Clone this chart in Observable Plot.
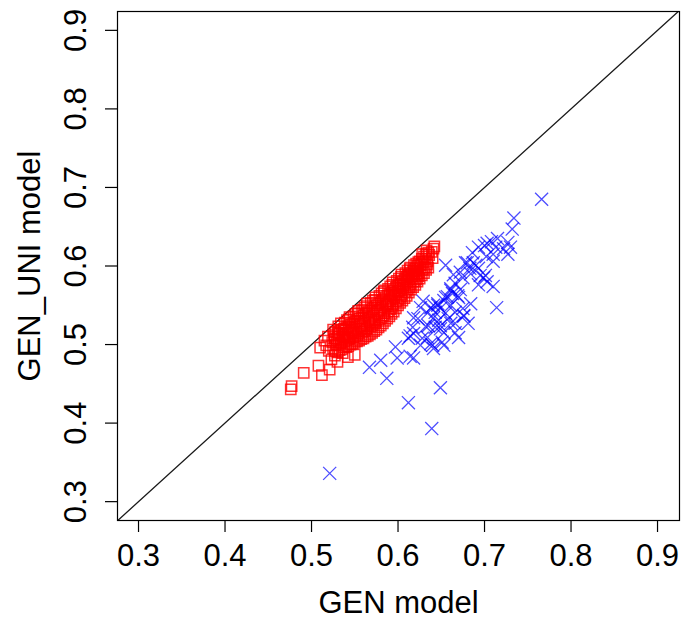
<!DOCTYPE html>
<html>
<head>
<meta charset="utf-8">
<script src="https://cdn.jsdelivr.net/npm/d3@7"></script>
<script src="https://cdn.jsdelivr.net/npm/@observablehq/plot@0.6"></script>
<style>
  html, body { margin: 0; padding: 0; background: #fff; }
  #chart svg { display: block; }
</style>
</head>
<body>
<div id="chart"></div>
<script>
// Axis labels and ticks
const xLabel = "GEN model";
const yLabel = "GEN_UNI model";
const tickValues = [0.3, 0.4, 0.5, 0.6, 0.7, 0.8, 0.9];
const xLimits = [0.2757, 0.9254];
const yLimits = [0.276, 0.924];
const diagonal = [0.276, 0.924];

// Red squares (GEN model vs GEN_UNI model)
const redGen = [
  0.476,0.477,0.491,0.508,0.512,0.521,0.530,0.523,0.527,0.542,0.550,0.520,0.517,0.515,0.519,0.510,0.536,
  0.525,0.524,0.526,0.525,
  0.530,0.531,0.529,0.530,0.531,
  0.535,0.534,0.536,0.535,0.534,
  0.540,0.541,0.539,0.540,0.541,
  0.545,0.544,0.546,0.545,0.544,
  0.550,0.551,0.549,0.550,0.551,
  0.555,0.554,0.556,0.555,0.554,
  0.560,0.561,0.559,0.560,0.561,
  0.565,0.564,0.566,0.565,0.564,
  0.570,0.571,0.569,0.570,0.571,
  0.575,0.574,0.576,0.575,0.574,
  0.580,0.581,0.579,0.580,0.581,
  0.585,0.584,0.586,0.585,0.584,
  0.590,0.591,0.589,0.590,0.591,
  0.595,0.594,0.596,0.595,0.594,
  0.600,0.601,0.599,0.600,0.601,
  0.605,0.604,0.606,0.605,0.604,
  0.610,0.611,0.609,0.610,0.611,
  0.615,0.614,0.616,0.615,0.614,
  0.620,0.621,0.619,0.620,0.621,
  0.625,0.624,0.626,0.625,
  0.630,0.631,0.629,0.630,
  0.635,0.634,0.636,0.635,
  0.640,0.639,0.641,
  0.642,0.633,0.628,0.612,0.588,0.567,0.548,0.557,0.573,0.594,0.603,0.618,0.622,0.538,0.532,
  0.5275,0.5285,0.5265,0.5275,
  0.5325,0.5335,0.5315,0.5325,
  0.5375,0.5385,0.5365,0.5375,0.5385,
  0.5425,0.5435,0.5415,0.5425,0.5435,
  0.5475,0.5485,0.5465,0.5475,0.5485,
  0.5525,0.5535,0.5515,0.5525,0.5535,
  0.5575,0.5585,0.5565,0.5575,0.5585,
  0.5625,0.5635,0.5615,0.5625,0.5635,
  0.5675,0.5685,0.5665,0.5675,0.5685,
  0.5725,0.5735,0.5715,0.5725,0.5735,
  0.5775,0.5785,0.5765,0.5775,0.5785,
  0.5825,0.5835,0.5815,0.5825,0.5835,
  0.5875,0.5885,0.5865,0.5875,0.5885,
  0.5925,0.5935,0.5915,0.5925,0.5935,
  0.5975,0.5985,0.5965,0.5975,0.5985,
  0.6025,0.6035,0.6015,0.6025,0.6035,
  0.6075,0.6085,0.6065,0.6075,0.6085,
  0.6125,0.6135,0.6115,0.6125,0.6135,
  0.6175,0.6185,0.6165,0.6175,0.6185,
  0.6225,0.6235,0.6215,0.6225,0.6235,
  0.6275,0.6285,0.6265,0.6275,
  0.6325,0.6335,0.6315,0.6325
];
const redUni = [
  0.443,0.447,0.464,0.473,0.461,0.468,0.478,0.481,0.486,0.484,0.487,0.492,0.499,0.505,0.510,0.496,0.489,
  0.495,0.503,0.512,0.519,
  0.490,0.499,0.507,0.515,0.523,
  0.494,0.502,0.510,0.519,0.527,
  0.497,0.505,0.513,0.521,0.531,
  0.500,0.508,0.516,0.525,0.535,
  0.502,0.510,0.519,0.529,0.539,
  0.505,0.514,0.523,0.533,0.543,
  0.508,0.517,0.527,0.537,0.547,
  0.511,0.521,0.531,0.541,0.552,
  0.515,0.525,0.535,0.545,0.556,
  0.519,0.529,0.539,0.550,0.560,
  0.524,0.534,0.544,0.554,0.565,
  0.530,0.540,0.549,0.559,0.569,
  0.536,0.545,0.555,0.564,0.574,
  0.542,0.551,0.560,0.569,0.579,
  0.550,0.558,0.567,0.575,0.584,
  0.556,0.564,0.572,0.580,0.589,
  0.562,0.570,0.578,0.586,0.594,
  0.570,0.577,0.584,0.591,0.598,
  0.576,0.583,0.590,0.597,0.603,
  0.584,0.591,0.598,0.606,
  0.591,0.598,0.605,0.612,
  0.598,0.606,0.614,0.617,
  0.610,0.618,0.622,
  0.625,0.620,0.615,0.588,0.551,0.528,0.515,0.520,0.531,0.563,0.577,0.593,0.590,0.509,0.514,
  0.492,0.500,0.508,0.516,
  0.493,0.501,0.510,0.518,
  0.496,0.504,0.512,0.520,0.528,
  0.498,0.507,0.515,0.523,0.532,
  0.501,0.509,0.518,0.527,0.536,
  0.504,0.512,0.521,0.530,0.540,
  0.507,0.516,0.525,0.534,0.544,
  0.510,0.519,0.529,0.539,0.549,
  0.513,0.523,0.533,0.543,0.553,
  0.517,0.527,0.537,0.547,0.557,
  0.522,0.532,0.542,0.552,0.562,
  0.527,0.537,0.547,0.557,0.567,
  0.533,0.542,0.552,0.562,0.571,
  0.539,0.548,0.557,0.566,0.576,
  0.546,0.555,0.564,0.572,0.581,
  0.553,0.561,0.569,0.578,0.586,
  0.559,0.567,0.575,0.583,0.591,
  0.566,0.573,0.581,0.589,0.596,
  0.573,0.580,0.587,0.594,0.601,
  0.580,0.587,0.594,0.600,0.605,
  0.588,0.595,0.602,0.609,
  0.595,0.602,0.609,0.615
];

// Blue crosses (GEN model vs GEN_UNI model)
const blueGen = [
  0.766,0.734,0.732,0.715,0.708,0.727,0.700,0.693,0.713,0.727,0.710,0.702,0.686,0.655,0.678,0.683,0.710,0.693,0.672,0.664,
  0.699,0.703,0.675,0.693,0.710,0.666,0.661,0.672,0.663,0.657,0.670,0.653,0.646,0.641,0.638,0.649,0.629,0.626,0.714,0.661,
  0.675,0.666,0.676,0.655,0.643,0.634,0.623,0.647,0.617,0.632,0.643,0.661,0.681,0.666,0.670,0.653,0.634,0.618,0.612,0.638,
  0.653,0.597,0.614,0.599,0.580,0.567,0.587,0.649,0.612,0.639,0.521,0.695,0.684,0.658,0.635,0.651,0.641,0.626,0.618,0.614,
  0.649,0.640,0.628,0.687,0.680,0.690,0.701,0.684,0.669,0.655,0.618,0.641,0.666,0.649,0.646,0.661,0.722,0.730,0.703,0.676
];
const blueUni = [
  0.685,0.661,0.647,0.635,0.631,0.630,0.626,0.624,0.624,0.615,0.615,0.612,0.617,0.601,0.604,0.597,0.606,0.597,0.592,0.589,
  0.585,0.580,0.585,0.576,0.574,0.578,0.571,0.570,0.565,0.561,0.560,0.556,0.552,0.550,0.547,0.546,0.555,0.547,0.547,0.550,
  0.546,0.541,0.536,0.540,0.541,0.540,0.533,0.531,0.522,0.523,0.522,0.527,0.527,0.515,0.509,0.515,0.509,0.514,0.508,0.501,
  0.499,0.497,0.485,0.483,0.480,0.471,0.457,0.445,0.426,0.393,0.336,0.588,0.552,0.533,0.524,0.503,0.495,0.499,0.483,0.511,
  0.524,0.499,0.508,0.604,0.604,0.601,0.588,0.590,0.562,0.560,0.534,0.534,0.527,0.520,0.550,0.569,0.622,0.624,0.629,0.537
];

const red = redGen.map((g, i) => ({gen: g, uni: redUni[i]}));
const blue = blueGen.map((g, i) => ({gen: g, uni: blueUni[i]}));

const font = "'Liberation Sans', Arial, Helvetica, sans-serif";
const fs = 31;

const chart = Plot.plot({
  width: 681,
  height: 620,
  marginLeft: 117,
  marginRight: 2,
  marginTop: 11,
  marginBottom: 100,
  style: {fontFamily: font, fontSize: fs + "px", background: "#fff", color: "#000"},
  x: {domain: xLimits, ticks: tickValues},
  y: {domain: yLimits, ticks: tickValues},
  marks: [
    Plot.line(diagonal, {x: d => d, y: d => d, stroke: "#1a1a1a", strokeWidth: 1.3, clip: true}),
    Plot.dot(red, {x: "gen", y: "uni", symbol: "square", r: 5.8, fill: "none", stroke: "#ff0000", strokeOpacity: 0.8, strokeWidth: 1.5}),
    Plot.dot(blue, {x: "gen", y: "uni", symbol: "times", r: 6, fill: "none", stroke: "#0000ff", strokeOpacity: 0.7, strokeWidth: 1.3}),
    Plot.frame({stroke: "#000", strokeWidth: 1.2}),
    Plot.axisX({ticks: tickValues, tickSize: 12, tickPadding: 11, tickFormat: d => d.toFixed(1), fontSize: fs, label: null, stroke: "#000", strokeWidth: 1.2}),
    Plot.axisY({ticks: tickValues, tickSize: 12, tickPadding: 20, tickRotate: -90, tickFormat: d => d.toFixed(1), fontSize: fs, label: null, stroke: "#000", strokeWidth: 1.2}),
    Plot.text([xLabel], {frameAnchor: "bottom", dy: 83, lineAnchor: "middle", textAnchor: "middle", text: d => d, fontSize: fs, fill: "#000"}),
    Plot.text([yLabel], {frameAnchor: "left", dx: -87, rotate: -90, lineAnchor: "middle", textAnchor: "middle", text: d => d, fontSize: fs, fill: "#000"})
  ]
});
document.getElementById("chart").appendChild(chart);
</script>
</body>
</html>
